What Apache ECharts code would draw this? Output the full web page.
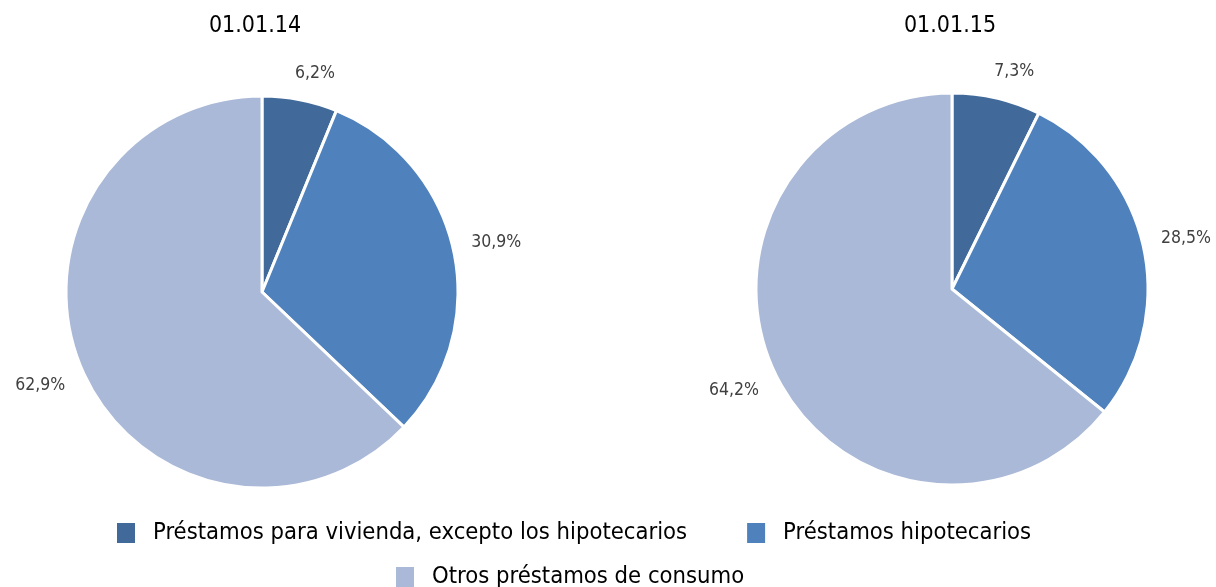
<!DOCTYPE html>
<html>
<head>
<meta charset="utf-8">
<script src="https://cdn.jsdelivr.net/npm/echarts@6/dist/echarts.min.js"></script>
<style>
  html, body { margin: 0; padding: 0; background: #fff; }
  #chart { width: 1216px; height: 587px; }
</style>
</head>
<body>
<div id="chart"></div>
<script>
// datos
var categorias = ['Préstamos para vivienda, excepto los hipotecarios', 'Préstamos hipotecarios', 'Otros préstamos de consumo'];
var fechas = ['01.01.14', '01.01.15'];
var valores2014 = [6.2, 30.9, 62.9];
var valores2015 = [7.3, 28.5, 64.2];
var colores = ['#416A9B', '#4F81BD', '#AAB9D7'];

var fuente = '"Liberation Sans Narrow", "DejaVu Sans Condensed", sans-serif';

// geometría de cada pastel
var centros = [[262, 292], [952, 289]];
var radio = 196;
var separacion = 18;
var valoresPorSerie = [valores2014, valores2015];

function datosPie(vals) {
  return vals.map(function (v, i) {
    return { name: categorias[i], value: v, itemStyle: { color: colores[i] } };
  });
}

// etiqueta fuera del borde, estilo Excel ("extremo externo")
function posEtiqueta(p) {
  var vals = valoresPorSerie[p.seriesIndex];
  var total = vals.reduce(function (a, b) { return a + b; }, 0);
  var acum = 0;
  for (var i = 0; i < p.dataIndex; i++) acum += vals[i];
  var ang = (acum + vals[p.dataIndex] / 2) / total * 2 * Math.PI;
  var ux = Math.sin(ang), uy = -Math.cos(ang);
  var c = centros[p.seriesIndex];
  var w = p.labelRect.width, h = p.labelRect.height;
  var d = radio + separacion;
  var x = c[0] + ux * d + Math.sign(ux) * w / 2 * Math.min(1, Math.abs(ux) * 3);
  var y = c[1] + uy * d + Math.sign(uy) * h / 2 * Math.min(1, Math.abs(uy) * 2.5);
  return { x: x, y: y, align: 'center', verticalAlign: 'middle' };
}

function seriePie(vals, idx) {
  return {
    type: 'pie',
    center: centros[idx],
    radius: [0, radio],
    startAngle: 90,
    clockwise: true,
    silent: true,
    itemStyle: { borderColor: '#fff', borderWidth: 3 },
    label: {
      show: true,
      position: 'outside',
      overflow: 'none',
      formatter: function (p) { return p.value.toFixed(1).replace('.', ',') + '%'; },
      color: '#404040',
      fontSize: 17.5,
      fontFamily: fuente
    },
    labelLine: { show: false },
    labelLayout: posEtiqueta,
    data: datosPie(vals)
  };
}

var chart = echarts.init(document.getElementById('chart'));
chart.setOption({
  animation: false,
  textStyle: { fontFamily: fuente },
  title: [
    { text: fechas[0], left: 250, top: 10, textAlign: 'center', textStyle: { fontSize: 23, fontWeight: 'normal', color: '#000', fontFamily: fuente } },
    { text: fechas[1], left: 945, top: 10, textAlign: 'center', textStyle: { fontSize: 23, fontWeight: 'normal', color: '#000', fontFamily: fuente } }
  ],
  legend: [
    {
      data: categorias.slice(0, 2),
      left: 110,
      top: 516,
      itemWidth: 20,
      itemHeight: 22,
      itemGap: 58,
      icon: 'rect',
      textStyle: { fontSize: 23.6, color: '#000', padding: [0, 0, 0, 12], fontFamily: fuente }
    },
    {
      data: categorias.slice(2),
      left: 389,
      top: 560,
      itemWidth: 20,
      itemHeight: 22,
      icon: 'rect',
      textStyle: { fontSize: 23.6, color: '#000', padding: [0, 0, 0, 12], fontFamily: fuente }
    }
  ],
  series: [
    seriePie(valores2014, 0),
    seriePie(valores2015, 1)
  ]
});
</script>
</body>
</html>
